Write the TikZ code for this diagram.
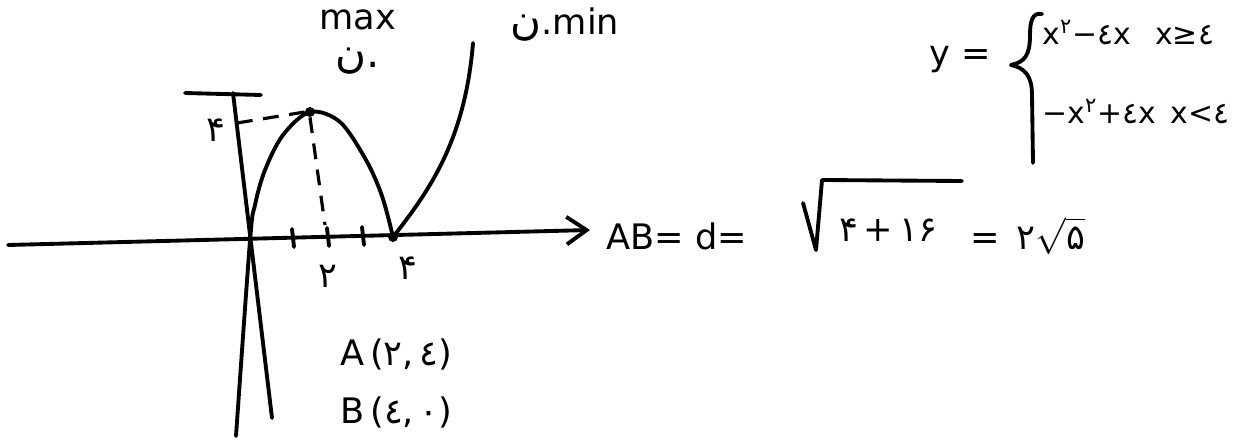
\documentclass[tikz,border=0pt]{standalone}
\usepackage{fontspec}
\setmainfont{DejaVu Sans}
\newfontfamily\pfont[Script=Arabic]{DejaVu Sans}
\usetikzlibrary{arrows.meta,positioning}

\begin{document}
\begin{tikzpicture}[
    x=0.02cm, y=-0.02cm,
    every node/.style={font=\fontsize{20}{22}\selectfont, inner sep=0pt},
    pen/.style={line width=2.2pt, line cap=round, line join=round},
    guide/.style={line width=1.8pt, dash pattern=on 9pt off 6pt},
    dot/.style={circle, fill, minimum size=0.2cm, inner sep=0pt},
    fa/.style={font=\pfont\fontsize{20}{22}\selectfont},
    cases/.style={anchor=west, font=\fontsize{17}{19}\selectfont}
]
\fill[white] (0,0) rectangle (1246,439);
\useasboundingbox (0,0) rectangle (1246,439);
\coordinate (xL) at (8,245);
\coordinate (xR) at (590,230);
\coordinate (yT) at (233,93);
\coordinate (yB) at (272,418);
% axes
\draw[pen] (185,93) -- (261,95);
\draw[pen] (yT) -- (yB);
\draw[pen, -{Straight Barb[length=4mm, width=5.5mm]}] (xL) -- (xR);
\foreach \tx/\ty in {293/238,328/237,363/236}
    \draw[pen] (\tx-1,\ty-9) -- (\tx+1,\ty+9);
% the two branches
\draw[pen] plot[smooth, tension=0.55] coordinates {(236,436) (250,241) (255,205) (265,170) (283,135) (310,112) (340,122) (366,160) (382,196) (393,237)};
\draw[pen] (393,237) .. controls (430,190) and (465,140) .. (473,43);
\node[dot] (vtx) at (310,112) {};
\node[dot] (root) at (393,237) {};
\draw[guide] (237,123) -- (vtx.west);
\draw[guide] (vtx.south) -- (325,225);
% labels on the graph
\node[fa] (fourY) at (216,130) {۴};
\node[fa] (twoX) at (328,276) {۲};
\node[fa] (fourX) at (408,268) {۴};
\node (maxlbl) at (358,20) {max};
\node[below=0.35cm of maxlbl, font=\fontsize{24}{26}\selectfont] (nmax) {{\pfont ن}.};
\node (minlbl) at (565,25) {{\pfont\fontsize{24}{26}\selectfont ن}.min};
\node[anchor=west] (ptA) at (340,354) {A\,({\pfont ۲},\,{\pfont ٤})};
\node[anchor=west] (ptB) at (340,412) {B\,({\pfont ٤},\,{\pfont ۰})};
% distance
\node (ABd) at (677,236) {AB= d=};
\draw[pen] (803,203) -- (816,250) -- (822,180) -- (962,181);
\node[fa] (radic) at (888,230) {۴\,+\,۱۶};
\node[fa, anchor=west] (res) at (970,236) {=\, ۲$\sqrt{\hbox{۵}}$};
% piecewise rule
\node (ylbl) at (960,60) {y =};
\draw[pen] (1042,14) .. controls (1032,12) and (1030,22) .. (1030,35)
    .. controls (1030,55) and (1025,62) .. (1011,65)
    .. controls (1025,68) and (1032,76) .. (1032,95) -- (1033,163);
\node[cases] (topcase) at (1042,33) {x\textsuperscript{\pfont ۲}−{\pfont ٤}x\enspace\ x≥{\pfont ٤}};
\node[cases] (botcase) at (1042,112) {−x\textsuperscript{\pfont ۲}+{\pfont ٤}x\enspace x<{\pfont ٤}};
\end{tikzpicture}
\end{document}
